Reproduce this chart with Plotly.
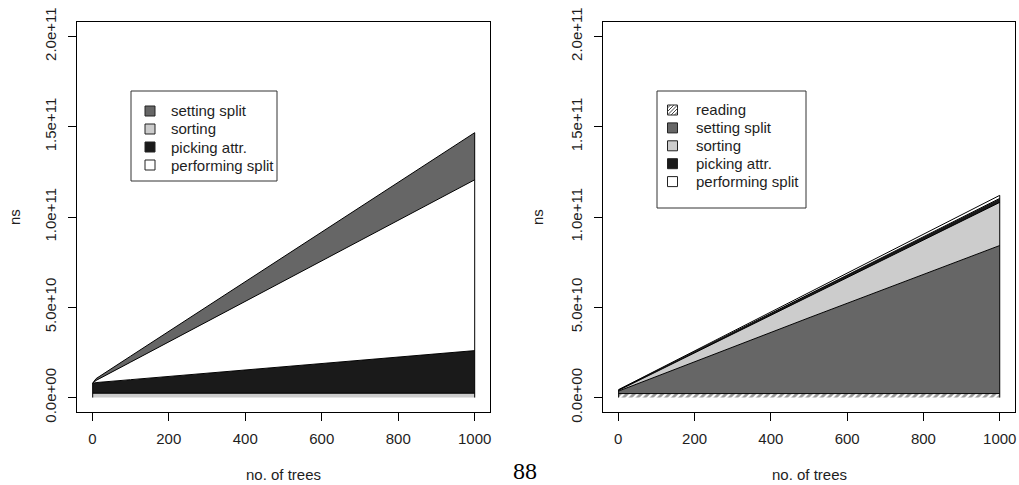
import numpy as np
import plotly.graph_objects as go

# ---- data: time (ns) per training stage vs. number of trees ----
x_left = [1, 10, 100, 1000]
sorting_l = [2.4e9, 2.4e9, 2.4e9, 2.4e9]
picking_l = [5.4e9, 5.9e9, 7.5e9, 2.36e10]
performing_l = [0.12e9, 1.2e9, 9.7e9, 9.46e10]
setting_l = [0.1e9, 1.0e9, 3.3e9, 2.61e10]

x_right = [1, 500, 1000]
reading_r = [2.2e9, 2.2e9, 2.2e9]
setting_r = [1.4e9, 4.2e10, 8.2e10]
sorting_r = [0.4e9, 1.2e10, 2.39e10]
picking_r = [0.25e9, 1.2e9, 2.2e9]
performing_r = [0.15e9, 0.95e9, 1.7e9]

x_ticks = [0, 200, 400, 600, 800, 1000]
y_ticks = [0, 5e10, 1e11, 1.5e11, 2e11]
y_ticktext = ["0.0e+00", "5.0e+10", "1.0e+11", "1.5e+11", "2.0e+11"]

legend_left = ["setting split", "sorting", "picking attr.", "performing split"]
legend_right = ["reading", "setting split", "sorting", "picking attr.", "performing split"]

COL = {
    "setting split": "#666666",
    "sorting": "#cccccc",
    "picking attr.": "#1a1a1a",
    "performing split": "#ffffff",
    "reading": "#ffffff",
}

FONT = "Liberation Sans, Arial, Helvetica, sans-serif"
TXT = "#1e1e1e"
W, H = 1019, 485

fig = go.Figure()


def add_stack(xs, layers, xa, ya, group):
    """Stacked polygons drawn bottom-up, each outlined in black."""
    for name, vals in layers:
        kw = {}
        if name == "reading":
            kw["fillpattern"] = dict(shape="/", fgcolor="#333333", bgcolor="white",
                                     size=5, solidity=0.55)
        fig.add_trace(go.Scatter(
            x=xs, y=vals, mode="lines", stackgroup=group,
            line=dict(color="black", width=1),
            fillcolor=COL[name], showlegend=False, hoverinfo="skip",
            xaxis=xa, yaxis=ya, **kw))
    total = np.sum([v for _, v in layers], axis=0)
    # closing edges of the polygons at both ends
    fig.add_trace(go.Scatter(
        x=[xs[0], xs[0], None, xs[-1], xs[-1]],
        y=[0, total[0], None, 0, total[-1]],
        mode="lines", line=dict(color="black", width=1),
        showlegend=False, hoverinfo="skip", xaxis=xa, yaxis=ya))


add_stack(x_left, [("sorting", sorting_l), ("picking attr.", picking_l),
                   ("performing split", performing_l), ("setting split", setting_l)],
          "x", "y", "left")
add_stack(x_right, [("reading", reading_r), ("setting split", setting_r),
                    ("sorting", sorting_r), ("picking attr.", picking_r),
                    ("performing split", performing_r)],
          "x2", "y2", "right")

# ---- R-style legend boxes (pixel layout converted to paper coords) ----
shapes = []
annotations = []


def px(x):
    return x / W


def py(y):
    return 1 - y / H


def draw_legend(names, left, top, right, bottom, key_cx, text_x, row0, step):
    shapes.append(dict(type="rect", xref="paper", yref="paper",
                       x0=px(left), x1=px(right), y0=py(bottom), y1=py(top),
                       line=dict(color="#333", width=1), fillcolor="white", layer="above"))
    half = 5
    for i, name in enumerate(names):
        cy = row0 + i * step
        shapes.append(dict(type="rect", xref="paper", yref="paper",
                           x0=px(key_cx - half), x1=px(key_cx + half),
                           y0=py(cy + half), y1=py(cy - half),
                           line=dict(color="#222", width=1), fillcolor=COL[name],
                           layer="above"))
        if name == "reading":
            for k in range(-2, 3):
                off = k * 3.5
                xa, xb = key_cx - half + off, key_cx + half + off
                ya, yb = cy + half, cy - half
                # clip each diagonal to the key square
                if xa < key_cx - half:
                    ya -= (key_cx - half - xa)
                    xa = key_cx - half
                if xb > key_cx + half:
                    yb += (xb - key_cx - half)
                    xb = key_cx + half
                shapes.append(dict(type="line", xref="paper", yref="paper",
                                   x0=px(xa), y0=py(ya), x1=px(xb), y1=py(yb),
                                   line=dict(color="#444", width=1), layer="above"))
        annotations.append(dict(text=name, x=px(text_x), y=py(cy), xref="paper",
                                yref="paper", showarrow=False, xanchor="left",
                                yanchor="middle",
                                font=dict(family=FONT, size=15, color=TXT)))


draw_legend(legend_left, 131, 91, 277, 181, 150, 169, 111, 18)
draw_legend(legend_right, 657, 91, 806, 208, 672.5, 694, 110, 17.9)

box_l = (77, 490)
box_r = (603, 1015)
box_y = (22, 412)
ydom = [(H - box_y[1]) / H, (H - box_y[0]) / H]

xaxis_style = dict(range=[-40, 1040], tickvals=x_ticks, ticks="outside", ticklen=8,
                   tickcolor="black", showline=True, mirror=True, linecolor="black",
                   linewidth=1, showgrid=False, zeroline=False, automargin=False,
                   tickfont=dict(family=FONT, size=15, color=TXT),
                   ticklabelstandoff=5)
yaxis_style = dict(range=[-8e9, 2.08e11], tickvals=y_ticks, ticktext=y_ticktext,
                   ticks="outside", ticklen=8, tickcolor="black", showline=True,
                   mirror=True, linecolor="black", linewidth=1, showgrid=False,
                   zeroline=False, tickangle=-90, automargin=False,
                   tickfont=dict(family=FONT, size=15, color=TXT),
                   ticklabelstandoff=6)

for cx in [(box_l[0] + box_l[1]) / 2, (box_r[0] + box_r[1]) / 2]:
    annotations.append(dict(text="no. of trees", x=px(cx), y=py(474),
                            xref="paper", yref="paper", showarrow=False,
                            font=dict(family=FONT, size=15, color=TXT),
                            xanchor="center", yanchor="middle"))
for cx in [15, 538]:
    annotations.append(dict(text="ns", x=px(cx), y=py(217), textangle=-90,
                            xref="paper", yref="paper", showarrow=False,
                            font=dict(family=FONT, size=15, color=TXT),
                            xanchor="center", yanchor="middle"))
annotations.append(dict(text="88", x=px(525), y=py(471), xref="paper", yref="paper",
                        showarrow=False, xanchor="center", yanchor="middle",
                        font=dict(family="Liberation Serif, Times New Roman, serif",
                                  size=24, color="black")))

fig.update_layout(
    width=W, height=H, margin=dict(l=0, r=0, t=0, b=0, autoexpand=False),
    paper_bgcolor="white", plot_bgcolor="white",
    xaxis=dict(domain=[box_l[0] / W, box_l[1] / W], anchor="y", **xaxis_style),
    yaxis=dict(domain=ydom, anchor="x", **yaxis_style),
    xaxis2=dict(domain=[box_r[0] / W, box_r[1] / W], anchor="y2", **xaxis_style),
    yaxis2=dict(domain=ydom, anchor="x2", **yaxis_style),
    shapes=shapes,
    annotations=annotations,
    showlegend=False,
)

fig.write_html("out.html")
